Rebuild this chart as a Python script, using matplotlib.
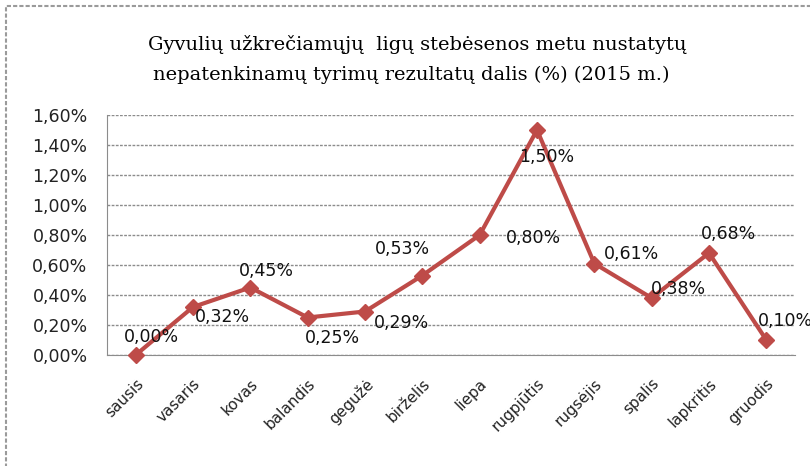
import matplotlib
matplotlib.use("Agg")
import matplotlib.pyplot as plt
from matplotlib.patches import Rectangle
from matplotlib.ticker import FuncFormatter

months = ["sausis", "vasaris", "kovas", "balandis", "gegužė", "birželis",
          "liepa", "rugpjūtis", "rugsėjis", "spalis", "lapkritis", "gruodis"]
values = [0.00, 0.32, 0.45, 0.25, 0.29, 0.53, 0.80, 1.50, 0.61, 0.38, 0.68, 0.10]
yticks = [0.0, 0.2, 0.4, 0.6, 0.8, 1.0, 1.2, 1.4, 1.6]
title_lines = ["Gyvulių užkrečiamųjų  ligų stebėsenos metu nustatytų",
               "nepatenkinamų tyrimų rezultatų dalis (%) (2015 m.)"]

# label offsets (points) relative to each marker
label_offsets = [(11.5, 13), (21, -7), (11.5, 12), (18, -15), (26, -8.6), (-14, 19),
                 (39, -2), (7, -19.5), (27, 7), (19, 6.5), (14, 14), (14, 14)]

FONT = "DejaVu Sans"
FS = 12.5

fig = plt.figure(figsize=(8.1, 4.66), dpi=100)
fig.patch.set_facecolor("white")
fig.add_artist(Rectangle((6/810, -0.05), 1.1, 1 - 6/466 + 0.05, transform=fig.transFigure,
                         fill=False, edgecolor="#9a9a9a", linestyle=(0, (2, 1)), linewidth=1.5))

ax = fig.add_axes([107/810, 1 - 355/466, 688/810, 240/466])
x = list(range(len(months)))
ax.plot(x, values, color="#BE4B48", linewidth=3.0, marker="D", markersize=8.5,
        markerfacecolor="#BE4B48", markeredgecolor="#BE4B48", zorder=3, clip_on=False)

for xi, v, off in zip(x, values, label_offsets):
    ax.annotate(f"{v:.2f}%".replace(".", ","), (xi, v), xytext=off, textcoords="offset points",
                ha="center", va="center", fontsize=FS, family=FONT, color="#111111",
                zorder=4, annotation_clip=False)

ax.set_xlim(-0.5, len(months) - 0.5)
ax.set_ylim(0, 1.6)
ax.set_yticks(yticks)
ax.yaxis.set_major_formatter(FuncFormatter(lambda v, p: f"{v:.2f}%".replace(".", ",")))
ax.set_xticks(x)
ax.set_xticklabels(months, rotation=45, ha="right", rotation_mode="anchor")
for lab in ax.get_xticklabels():
    lab.set_fontfamily(FONT)
    lab.set_fontsize(11)
    lab.set_color("#222222")
for lab in ax.get_yticklabels():
    lab.set_fontfamily(FONT)
    lab.set_fontsize(FS)
    lab.set_color("#222222")
ax.tick_params(axis="y", length=0, pad=14)
ax.tick_params(axis="x", length=0, pad=15)

ax.grid(axis="y", color="#8c8c8c", linestyle=(0, (2, 1)), linewidth=1.0)
ax.set_axisbelow(True)
for s in ["top", "right"]:
    ax.spines[s].set_visible(False)
ax.spines["left"].set_color("#8c8c8c")
ax.spines["bottom"].set_color("#8c8c8c")
ax.spines["bottom"].set_linestyle((0, (2, 1)))

fig.text(0.515, 1 - 45/466, title_lines[0], ha="center", va="center", fontsize=14,
         family="DejaVu Serif")
fig.text(0.508, 1 - 75/466, title_lines[1], ha="center", va="center", fontsize=14,
         family="DejaVu Serif")

fig.savefig("out.png", dpi=100)
